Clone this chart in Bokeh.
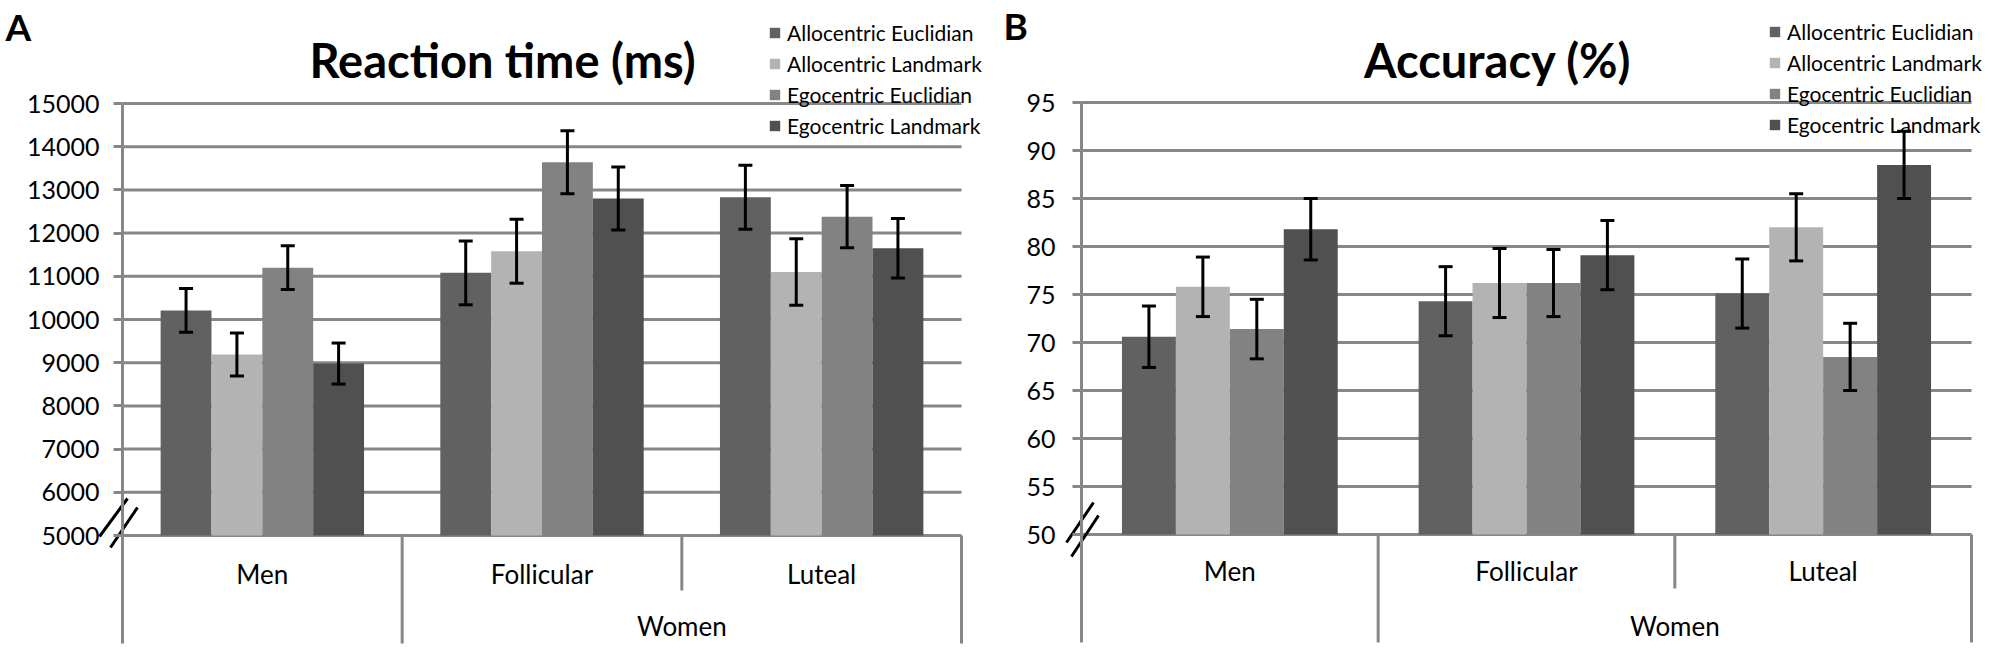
from bokeh.plotting import figure
from bokeh.models import Range1d, FixedTicker, Whisker, TeeHead, ColumnDataSource, Label
from bokeh.layouts import row
from bokeh.embed import file_html
from bokeh.resources import INLINE
from bokeh.core.properties import value

# ---------------- data ----------------
categories = ["Men", "Follicular", "Luteal"]
group_label = "Women"
series_names = ["Allocentric Euclidian", "Allocentric Landmark",
                "Egocentric Euclidian", "Egocentric Landmark"]
series_colors = ["#616161", "#b3b3b3", "#828282", "#505050"]

# Reaction time (ms)
rt_allo_eucl = [10210, 11080, 12830]
rt_allo_land = [9190, 11580, 11100]
rt_ego_eucl = [11200, 13640, 12380]
rt_ego_land = [8980, 12800, 11650]
rt_allo_eucl_err = [505, 740, 740]
rt_allo_land_err = [500, 740, 770]
rt_ego_eucl_err = [505, 730, 720]
rt_ego_land_err = [475, 730, 690]
rt_ticks = [5000, 6000, 7000, 8000, 9000, 10000, 11000, 12000, 13000, 14000, 15000]

# Accuracy (%)
acc_allo_eucl = [70.6, 74.3, 75.1]
acc_allo_land = [75.8, 76.2, 82.0]
acc_ego_eucl = [71.4, 76.2, 68.5]
acc_ego_land = [81.8, 79.1, 88.5]
acc_allo_eucl_err = [3.2, 3.6, 3.6]
acc_allo_land_err = [3.1, 3.6, 3.5]
acc_ego_eucl_err = [3.1, 3.5, 3.5]
acc_ego_land_err = [3.2, 3.6, 3.5]
acc_ticks = [50, 55, 60, 65, 70, 75, 80, 85, 90, 95]

GRID = "#878787"
FONT = "Lato"
H = 650


def make_panel(W, axis_px, right_px, top_px, base_px, ticks, values, errors,
               title, title_x, letter, letter_x, letter_y, legend_x, legend_top,
               lab_dy, grp_dy, mid_dy, full_dy, standoff, breaks):
    vmin, vmax = ticks[0], ticks[-1]
    ppx = (right_px - axis_px) / 3.0
    ppy = (base_px - top_px) / float(vmax - vmin)
    x_start, x_end = -axis_px / ppx, (W - axis_px) / ppx
    y_end = vmax + top_px / ppy
    y_start = vmin - (H - base_px) / ppy

    def dy(px):  # px below baseline -> data value
        return vmin - px / ppy

    p = figure(width=W, height=H, x_range=Range1d(x_start, x_end),
               y_range=Range1d(y_start, y_end), x_axis_type=None,
               output_backend="svg", toolbar_location=None, tools="",
               min_border=0, outline_line_color=None)
    p.ygrid.visible = False
    p.background_fill_color = "white"

    ax = p.yaxis[0]
    ax.fixed_location = 0
    ax.ticker = FixedTicker(ticks=ticks, minor_ticks=[])
    ax.bounds = (dy(full_dy), vmax)
    ax.axis_line_color = GRID
    ax.axis_line_width = 3
    ax.major_tick_line_color = GRID
    ax.major_tick_line_width = 3
    ax.major_tick_out = 9
    ax.major_tick_in = 0
    ax.minor_tick_line_color = None
    ax.major_label_text_font = FONT
    ax.major_label_text_font_size = "25px"
    ax.major_label_text_color = "black"
    ax.major_label_standoff = standoff

    # horizontal gridlines (including category axis at baseline)
    n = len(ticks)
    p.segment(x0=[0] * n, y0=ticks, x1=[3] * n, y1=ticks,
              line_color=GRID, line_width=3)

    # bars + error bars
    bw = 1 / 5.5
    for j, (vals, errs) in enumerate(zip(values, errors)):
        xs = [i + 0.5 + (j - 1.5) * bw for i in range(len(categories))]
        p.vbar(x=xs, top=vals, bottom=vmin, width=bw, fill_color=series_colors[j],
               line_color=None, legend_label=series_names[j])
        src = ColumnDataSource(dict(x=xs,
                                    up=[v + e for v, e in zip(vals, errs)],
                                    lo=[v - e for v, e in zip(vals, errs)]))
        p.add_layout(Whisker(source=src, base="x", upper="up", lower="lo",
                             dimension="height", line_color="black", line_width=3,
                             level="overlay",
                             upper_head=TeeHead(size=14, line_width=3, line_color="black"),
                             lower_head=TeeHead(size=14, line_width=3, line_color="black")))

    # category axis separators and labels
    p.segment(x0=[1, 2, 3], y0=[vmin] * 3, x1=[1, 2, 3],
              y1=[dy(full_dy), dy(mid_dy), dy(full_dy)],
              line_color=GRID, line_width=3)
    p.text(x=[i + 0.5 for i in range(len(categories))], y=[dy(lab_dy)] * 3,
           text=categories, text_align="center", text_baseline="middle",
           text_font=value(FONT), text_font_size="26px", text_color="black")
    p.text(x=[2], y=[dy(grp_dy)], text=[group_label], text_align="center",
           text_baseline="middle", text_font=value(FONT), text_font_size="26px",
           text_color="black")

    # axis break marks
    bx0 = [b[0] / ppx for b in breaks]
    by0 = [vmin + b[1] / ppy for b in breaks]
    bx1 = [b[2] / ppx for b in breaks]
    by1 = [vmin + b[3] / ppy for b in breaks]
    p.segment(x0=bx0, y0=by0, x1=bx1, y1=by1, line_color="black", line_width=3)

    # titles
    p.add_layout(Label(x=title_x, y=H - 59, x_units="screen", y_units="screen",
                       text=title, text_font=FONT, text_font_style="bold",
                       text_font_size="47px", text_align="center",
                       text_baseline="middle", text_color="black"))
    p.add_layout(Label(x=letter_x, y=H - letter_y, x_units="screen", y_units="screen",
                       text=letter, text_font=FONT, text_font_style="bold",
                       text_font_size="37px", text_align="left",
                       text_baseline="middle", text_color="black"))

    lg = p.legend[0]
    lg.glyph_width = 13
    lg.glyph_height = 13
    lg.label_height = 26
    lg.label_standoff = 6
    lg.spacing = 5
    lg.padding = 0
    lg.margin = 0
    lg.border_line_color = None
    lg.background_fill_alpha = 0
    lg.label_text_font = FONT
    lg.label_text_font_size = "21px"
    lg.label_text_color = "black"
    legend_h = 4 * 26 + 3 * 5
    lg.location = (legend_x, H - legend_top - legend_h)
    return p


pA = make_panel(
    W=998, axis_px=122, right_px=961, top_px=103, base_px=535, ticks=rt_ticks,
    values=[rt_allo_eucl, rt_allo_land, rt_ego_eucl, rt_ego_land],
    errors=[rt_allo_eucl_err, rt_allo_land_err, rt_ego_eucl_err, rt_ego_land_err],
    title="Reaction time (ms)", title_x=502, letter="A", letter_x=5, letter_y=26,
    legend_x=768, legend_top=19, lab_dy=38, grp_dy=90, mid_dy=55, full_dy=108,
    standoff=14,
    breaks=[(5, 37, -23, -1), (15, 28, -12, -12)])

pB = make_panel(
    W=1002, axis_px=83, right_px=973, top_px=102, base_px=534, ticks=acc_ticks,
    values=[acc_allo_eucl, acc_allo_land, acc_ego_eucl, acc_ego_land],
    errors=[acc_allo_eucl_err, acc_allo_land_err, acc_ego_eucl_err, acc_ego_land_err],
    title="Accuracy  (%)", title_x=505, letter="B", letter_x=5, letter_y=25,
    legend_x=770, legend_top=18, lab_dy=36, grp_dy=91, mid_dy=54, full_dy=108,
    standoff=17,
    breaks=[(12, 32, -15, -8), (17, 19, -10, -22)])

layout = row(pA, pB)
open("out.html", "w").write(file_html(layout, INLINE))
